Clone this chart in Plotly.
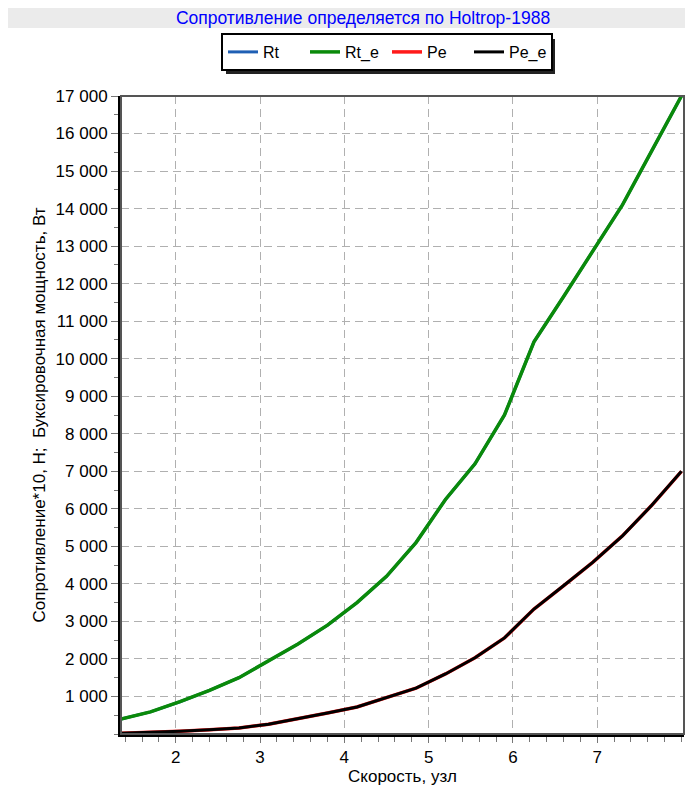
import plotly.graph_objects as go

speed = [1.35, 1.70, 2.05, 2.40, 2.75, 3.10, 3.45, 3.80, 4.15, 4.50,
         4.85, 5.20, 5.55, 5.90, 6.25, 6.60, 6.95, 7.30, 7.65, 8.00]
rt = [400, 590, 860, 1160, 1500, 1960, 2400, 2900, 3500, 4200,
      5100, 6250, 7200, 8500, 10450, 11650, 12880, 14100, 15550, 17000]
rt_e = [400, 590, 860, 1160, 1500, 1960, 2400, 2900, 3500, 4200,
        5100, 6250, 7200, 8500, 10450, 11650, 12880, 14100, 15550, 17000]
pe = [20, 40, 70, 110, 160, 260, 400, 560, 720, 960,
      1220, 1600, 2030, 2560, 3330, 3950, 4580, 5280, 6100, 7000]
pe_e = [20, 40, 70, 110, 160, 260, 400, 560, 720, 960,
        1220, 1600, 2030, 2560, 3330, 3950, 4580, 5280, 6100, 7000]

y_tickvals = [1000 * i for i in range(1, 18)]
y_ticktext = [f"{v // 1000} 000" for v in y_tickvals]
x_tickvals = [2, 3, 4, 5, 6, 7]
x_ticktext = ["2", "3", "4", "5", "6", "7"]

title_text = "Сопротивление определяется по Holtrop-1988"
x_title = "Скорость, узл"
y_title = "Сопротивление*10, Н;  Буксировочная мощность, Вт"

FONT = "Liberation Sans, Arial, Helvetica, sans-serif"

# page body has an 8px margin, so the figure is shifted by (8, 8)
OFF = 8
FIG_W, FIG_H = 693 - OFF, 794 - OFF
W, H = 563, 638          # plot area size
L_REF, T_REF = 121, 96   # plot area top-left in the screenshot
L, T = L_REF - OFF, T_REF - OFF

fig = go.Figure()
fig.add_trace(go.Scatter(x=speed, y=rt, name="Rt", mode="lines",
                         line=dict(color="#1f5fb4", width=3)))
fig.add_trace(go.Scatter(x=speed, y=rt_e, name="Rt_e", mode="lines",
                         line=dict(color="#0a8a0a", width=3.5)))
fig.add_trace(go.Scatter(x=speed, y=pe, name="Pe", mode="lines",
                         line=dict(color="#ff1a1a", width=3.5)))
fig.add_trace(go.Scatter(x=speed, y=pe_e, name="Pe_e", mode="lines",
                         line=dict(color="#000000", width=3)))


def px(xp):
    return (xp - L_REF) / W


def py(yp):
    return (T_REF + H - yp) / H


LEG_L, LEG_R = 221, 551
LEG_T, LEG_B = 33, 70

shapes = [
    # grey title band
    dict(type="rect", xref="paper", yref="paper", x0=px(0), x1=px(700),
         y0=py(28), y1=py(5), fillcolor="#ebebeb", line=dict(width=0),
         layer="below"),
    # legend shadow
    dict(type="rect", xref="paper", yref="paper", x0=px(LEG_L + 5),
         x1=px(LEG_R + 4), y0=py(LEG_B + 4), y1=py(LEG_T + 6),
         fillcolor="#222222", line=dict(width=0), layer="below"),
    # top / right frame
    dict(type="rect", xref="paper", yref="paper", x0=0, x1=1, y0=0, y1=1,
         line=dict(color="#555555", width=2), layer="above"),
]

fig.update_layout(
    width=FIG_W, height=FIG_H,
    margin=dict(l=L, r=FIG_W - L - W, t=T, b=FIG_H - T - H),
    paper_bgcolor="white", plot_bgcolor="white",
    font=dict(family=FONT, size=17, color="black"),
    title=dict(text=title_text, x=(363 - OFF) / FIG_W, xref="container",
               xanchor="center", y=1 - (18 - OFF) / FIG_H, yref="container",
               yanchor="middle",
               font=dict(family=FONT, size=17.5, color="#0000ff")),
    showlegend=True,
    legend=dict(orientation="h", x=px(LEG_L), y=py(LEG_T), xanchor="left",
                yanchor="top", bgcolor="white", bordercolor="black",
                borderwidth=2, font=dict(family=FONT, size=16, color="black"),
                itemwidth=30, entrywidth=37, entrywidthmode="pixels",
                traceorder="normal"),
    shapes=shapes,
)

fig.update_xaxes(
    range=[1.35, 8.03], tickmode="array", tickvals=x_tickvals,
    ticktext=x_ticktext, ticks="outside", ticklen=6, tickwidth=1,
    tickcolor="#777777", showline=True, linecolor="black", linewidth=3,
    showgrid=True, gridcolor="#b0b0b0", gridwidth=1, griddash="8px,5px",
    zeroline=False, tickfont=dict(size=17), automargin=False,
    minor=dict(dtick=0.2, tick0=0, ticks="outside", ticklen=5,
               tickcolor="#777777", showgrid=False),
    title=dict(text=x_title, standoff=0, font=dict(size=17)),
)
fig.update_yaxes(
    range=[0, 17000], tickmode="array", tickvals=y_tickvals,
    ticktext=y_ticktext, ticks="outside", ticklen=7, tickwidth=1,
    tickcolor="#777777", showline=True, linecolor="black", linewidth=3,
    showgrid=True, gridcolor="#b0b0b0", gridwidth=1, griddash="8px,5px",
    zeroline=False, tickfont=dict(size=17), automargin=False,
    minor=dict(dtick=500, tick0=0, ticks="outside", ticklen=4,
               tickcolor="#777777", showgrid=False),
    title=dict(text=y_title, standoff=6, font=dict(size=17)),
)

fig.write_html("out.html")
